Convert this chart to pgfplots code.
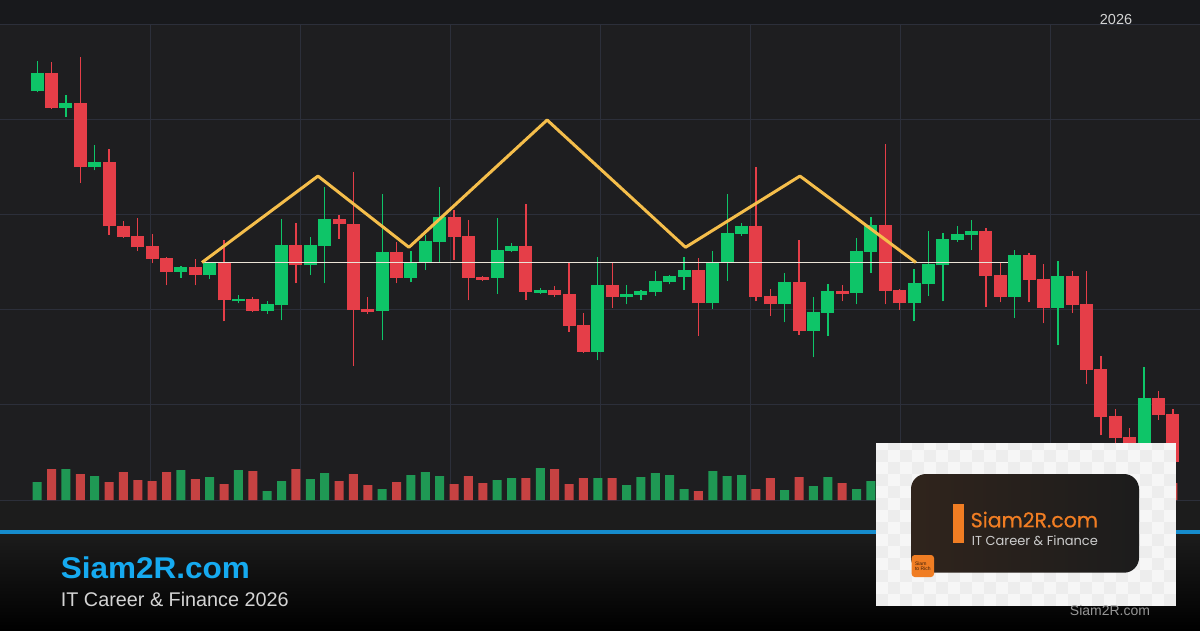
\documentclass[border=0pt]{standalone}
\usepackage{pgfplots}
\pgfplotsset{compat=1.18}
\usepackage{pgfplotstable}
\usepackage{fontspec}
\setmainfont{Liberation Sans}
\newfontfamily\brandfont[FakeStretch=1.05]{Liberation Sans}
\newfontfamily\logofont[FakeBold=0.6]{Poppins}
\newfontfamily\logosub{Poppins}

\definecolor{chartbg}{RGB}{30,30,32}
\definecolor{headbg}{RGB}{24,25,28}
\definecolor{lowbg}{RGB}{28,28,28}
\definecolor{gridcol}{RGB}{44,47,58}
\definecolor{cgreen}{RGB}{14,197,104}
\definecolor{cred}{RGB}{229,62,72}
\definecolor{vgreen}{RGB}{31,152,84}
\definecolor{vred}{RGB}{198,66,66}
\definecolor{goldline}{RGB}{245,190,75}
\definecolor{thinwhite}{RGB}{235,228,215}
\definecolor{bluebar}{RGB}{22,140,205}
\definecolor{brandblue}{RGB}{22,170,240}
\definecolor{subgray}{RGB}{212,212,212}
\definecolor{logoorange}{RGB}{240,125,35}
\definecolor{logogray}{RGB}{205,205,205}
\definecolor{wmgray}{RGB}{150,150,150}
\definecolor{checkA}{RGB}{246,246,246}
\definecolor{checkB}{RGB}{237,237,237}

\pgfplotstableread{
i o h l c v
0 143.1 146.2 142.9 144.9 1.8
1 144.9 146.1 141.2 141.3 3.1
2 141.3 142.6 140.3 141.8 3.1
3 141.8 146.6 133.4 135.0 2.6
4 135.0 137.4 134.7 135.6 2.4
5 135.6 136.9 127.9 128.8 1.8
6 128.8 129.4 127.6 127.7 2.8
7 127.8 129.7 126.2 126.6 2.0
8 126.7 128.0 124.9 125.4 1.9
9 125.5 125.6 122.6 124.0 2.8
10 124.0 124.6 123.4 124.5 3.0
11 124.5 125.4 122.6 123.7 2.1
12 123.7 125.0 123.3 124.9 2.3
13 124.9 127.4 118.8 121.0 1.6
14 120.9 121.6 120.7 121.2 3.0
15 121.2 121.4 119.8 119.9 2.9
16 119.9 120.9 119.6 120.6 0.9
17 120.5 129.6 118.9 126.8 1.9
18 126.8 129.2 122.8 124.7 3.1
19 124.7 127.7 123.7 126.8 2.1
20 126.7 132.9 122.8 129.6 2.7
21 129.6 130.0 127.5 129.0 1.9
22 129.0 134.5 114.1 120.0 2.6
23 120.1 121.4 119.6 119.8 1.5
24 119.9 132.2 116.8 126.1 1.1
25 126.1 127.2 122.8 123.4 1.8
26 123.4 126.2 122.9 125.0 2.5
27 124.9 127.9 124.2 127.3 2.8
28 127.2 132.9 125.1 129.8 2.4
29 129.8 130.5 125.3 127.7 1.6
30 127.8 129.5 121.0 123.4 2.4
31 123.5 123.6 123.0 123.2 1.7
32 123.4 129.7 121.7 126.3 2.0
33 126.2 127.0 126.1 126.7 2.2
34 126.7 131.2 121.1 121.9 2.2
35 121.8 122.3 121.7 122.1 3.2
36 122.1 122.5 121.4 121.6 3.1
37 121.7 125.1 117.7 118.3 1.6
38 118.4 119.7 115.5 115.6 2.2
39 115.6 125.6 114.7 122.6 2.2
40 122.6 125.0 120.2 121.4 2.2
41 121.4 122.6 120.6 121.7 1.5
42 121.6 122.1 121.0 122.0 2.3
43 121.9 124.1 121.5 123.0 2.7
44 122.9 123.7 122.7 123.6 2.5
45 123.5 125.6 122.1 124.2 1.1
46 124.2 125.5 117.3 120.7 0.9
47 120.7 126.2 120.1 125.0 2.9
48 125.1 132.2 123.1 128.1 2.4
49 128.0 129.2 127.8 128.8 2.5
50 128.8 135.1 120.9 121.4 1.1
51 121.5 122.2 119.4 120.6 2.2
52 120.6 123.9 118.7 122.9 1.0
53 122.9 127.4 117.4 117.8 2.3
54 117.8 121.4 115.0 119.8 1.4
55 119.7 122.7 117.3 122.0 2.3
56 122.0 122.6 120.9 121.7 1.7
57 121.8 127.6 120.6 126.2 1.1
58 126.1 129.8 123.9 128.9 1.9
59 128.9 137.5 120.6 122.0 2.4
60 122.1 122.2 120.0 120.7 1.8
61 120.7 124.3 118.8 122.8 2.0
62 122.7 128.3 121.5 124.8 2.2
63 124.7 128.1 120.9 127.5 2.6
64 127.4 128.8 127.2 128.0 1.5
65 127.9 129.5 126.3 128.3 1.7
66 128.3 128.6 120.3 123.6 2.5
67 123.7 125.0 120.8 121.4 1.9
68 121.4 126.3 119.2 125.8 2.3
69 125.8 126.0 120.8 123.2 1.6
70 123.3 124.8 118.6 120.2 2.1
71 120.2 125.2 116.3 123.6 2.4
72 123.6 124.1 119.7 120.5 1.8
73 120.6 124.1 112.2 113.7 3.0
74 113.8 115.2 106.8 108.7 3.2
75 108.8 109.6 105.8 106.5 2.6
76 106.6 107.6 104.4 105.1 2.2
77 105.1 114.0 104.5 110.7 2.8
78 110.7 111.5 108.4 109.0 2.0
79 109.1 109.6 103.2 104.0 1.7
}\candles

\pgfplotsset{
  chartgeom/.style={at={(0pt,130pt)}, anchor=south west, width=1200pt, height=475pt,
    scale only axis, xmin=-2.5878, xmax=80.89},
  isgreen/.style={restrict expr to domain={\thisrow{c}-\thisrow{o}}{0:1000}},
  isred/.style={restrict expr to domain={\thisrow{c}-\thisrow{o}}{-1000:-0.001}},
}

\begin{document}
\begin{tikzpicture}[x=1pt,y=1pt]
\useasboundingbox (0,0) rectangle (1200,630);
\fill[chartbg] (0,0) rectangle (1200,630);
\fill[headbg] (0,605) rectangle (1200,630);
\fill[lowbg] (0,100) rectangle (1200,130);
\shade[top color=lowbg, bottom color=black] (0,0) rectangle (1200,96);
\fill[bluebar] (0,96) rectangle (1200,100);

% volume + grid
\begin{axis}[chartgeom, ymin=0, ymax=47.5,
  axis line style={draw=none},
  xtick={7.847,18.282,28.716,39.151,49.586,60.021,70.456},
  ytick={0,9.5,19,28.5,38,47.5},
  xticklabels={}, yticklabels={}, major tick length=0pt,
  grid=major, grid style={draw=gridcol, line width=1pt}]
\addplot[ybar, bar width=9pt, bar shift=0pt, fill=vgreen, draw=none, isgreen]
  table[x=i, y=v] {\candles};
\addplot[ybar, bar width=9pt, bar shift=0pt, fill=vred, draw=none, isred]
  table[x=i, y=v] {\candles};
\end{axis}

% candles
\begin{axis}[chartgeom, ymin=100, ymax=150, hide axis]
% wicks
\addplot[draw=none, mark=none, isgreen,
  error bars/.cd, y dir=plus, y explicit, error mark=none,
  error bar style={draw=cgreen, solid, line width=1.3pt}]
  table[x=i, y=l, y error plus expr={\thisrow{h}-\thisrow{l}}] {\candles};
\addplot[draw=none, mark=none, isred,
  error bars/.cd, y dir=plus, y explicit, error mark=none,
  error bar style={draw=cred, solid, line width=1.3pt}]
  table[x=i, y=l, y error plus expr={\thisrow{h}-\thisrow{l}}] {\candles};
% bodies
\addplot[draw=none, mark=none, isgreen,
  error bars/.cd, y dir=plus, y explicit, error mark=none,
  error bar style={draw=cgreen, solid, line width=13pt}]
  table[x=i, y=o, y error plus expr={\thisrow{c}-\thisrow{o}}] {\candles};
\addplot[draw=none, mark=none, isred,
  error bars/.cd, y dir=plus, y explicit, error mark=none,
  error bar style={draw=cred, solid, line width=13pt}]
  table[x=i, y=c, y error plus expr={\thisrow{o}-\thisrow{c}}] {\candles};
% neckline
\addplot[thinwhite, line width=1.3pt, mark=none] coordinates {(11.46,125.0) (67.53,125.0)};
% pattern
\addplot[goldline, line width=3pt, mark=none, line join=round] coordinates {
  (11.46,125.0) (19.53,134.1) (25.86,126.6) (35.47,140.0)
  (45.10,126.6) (53.06,134.1) (61.13,125.0)};
\end{axis}

% header label
\node[text=subgray, font=\fontsize{14.5}{16}\selectfont] at (1116,610) {2026};

% footer text
\node[anchor=base west, inner sep=0pt, text=brandblue,
  font=\brandfont\bfseries\fontsize{30}{33}\selectfont] at (60.7,51.7) {Siam2R.com};
\node[anchor=base west, inner sep=0pt, text=subgray,
  font=\fontsize{19.8}{22}\selectfont] at (60.7,23.3) {IT Career \& Finance 2026};

% logo card
\fill[checkA] (876,24) rectangle (1176,187);
\begin{scope}
\clip (876,24) rectangle (1176,187);
\foreach \a in {0,...,24}{
  \foreach \b in {0,...,13}{
    \pgfmathtruncatemacro{\chk}{mod(\a+\b,2)}
    \ifnum\chk=0
      \fill[checkB] (876+12*\a,24+12*\b) rectangle ++(12,12);
    \fi
  }
}
\end{scope}
\shade[rounded corners=15pt, left color={rgb,255:red,48;green,36;blue,28}, right color={rgb,255:red,28;green,28;blue,28}]
  (911,57.3) rectangle (1139,156);
\fill[logoorange] (952.7,86.7) rectangle (964,126);
\node[anchor=base west, inner sep=0pt, text=logoorange,
  font=\logofont\fontsize{20.5}{24}\selectfont] at (970.5,102.7) {Siam2R.com};
\node[anchor=base west, inner sep=0pt, text=logogray,
  font=\logosub\fontsize{13}{15}\selectfont] at (971.7,85) {IT Career \& Finance};
\fill[logoorange, rounded corners=3pt] (911.7,53) rectangle (934,75);
\node[align=left, inner sep=0pt, text={rgb,255:red,60;green,30;blue,10},
  font=\fontsize{5}{5.5}\selectfont] at (922.8,64) {Siam\\to Rich};
\node[text=wmgray, font=\fontsize{14}{16}\selectfont] at (1110,20) {Siam2R.com};
\end{tikzpicture}
\end{document}
